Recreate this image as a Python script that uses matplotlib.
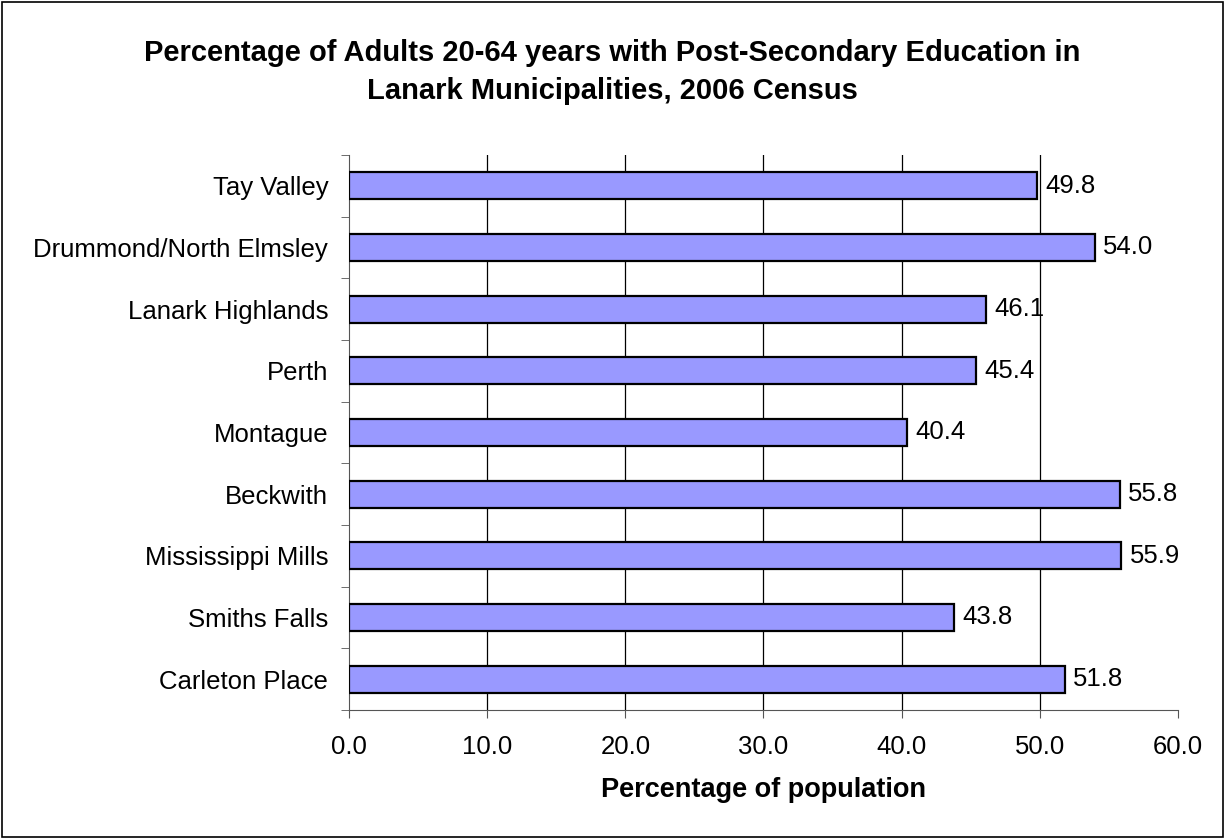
import numpy as np
import matplotlib.pyplot as plt

plt.rcParams['font.family'] = ['Liberation Sans', 'DejaVu Sans']

# ============ DATA ============
places = ['Carleton Place', 'Smiths Falls', 'Mississippi Mills', 'Beckwith',
          'Montague', 'Perth', 'Lanark Highlands', 'Drummond/North Elmsley',
          'Tay Valley']
pct = [51.8, 43.8, 55.9, 55.8, 40.4, 45.4, 46.1, 54.0, 49.8]
xticks = [0, 10, 20, 30, 40, 50, 60]

# ============ PLOT ============
fig = plt.figure(figsize=(12.25, 8.39), dpi=100)
ax = fig.add_axes([0.2849, 0.1538, 0.9616 - 0.2849, 0.8153 - 0.1538])

y = np.arange(len(places))
ax.barh(y, pct, height=0.44, color='#9999FF', edgecolor='black',
        linewidth=1.6, zorder=3)
for yi, v in zip(y, pct):
    ax.annotate(f'{v:.1f}', (v, yi), xytext=(6, 0), textcoords='offset points',
                va='center', ha='left', fontsize=18.5)

ax.set_xlim(0, 60)
ax.set_ylim(-0.5, len(places) - 0.5)
ax.set_xticks(xticks)
ax.set_xticklabels([f'{t:.1f}' for t in xticks], fontsize=18.5)
ax.set_yticks(y)
ax.set_yticklabels(places, fontsize=18.5)
ax.tick_params(axis='y', length=0, pad=15)
ax.set_yticks(np.arange(-0.5, len(places), 1), minor=True)
ax.tick_params(axis='y', which='minor', length=6, color='#555555')
ax.tick_params(axis='x', length=6, color='#555555', pad=12)

for t in xticks[1:-1]:
    ax.axvline(t, color='black', lw=0.9, zorder=1)

for s in ['top', 'right']:
    ax.spines[s].set_visible(False)
ax.spines['left'].set_color('#555555')
ax.spines['bottom'].set_color('#555555')

ax.set_xlabel('Percentage of population', fontsize=19.5, fontweight='bold', labelpad=13)
fig.text(0.5, 0.914, 'Percentage of Adults 20-64 years with Post-Secondary Education in\nLanark Municipalities, 2006 Census',
         ha='center', va='center', fontsize=21, fontweight='bold', linespacing=1.44)

# figure border
fig.patches.append(plt.Rectangle((0.002, 0.002), 0.996, 0.996, transform=fig.transFigure,
                                 fill=False, edgecolor='black', lw=1.2))

plt.savefig('out.png', dpi=100)
